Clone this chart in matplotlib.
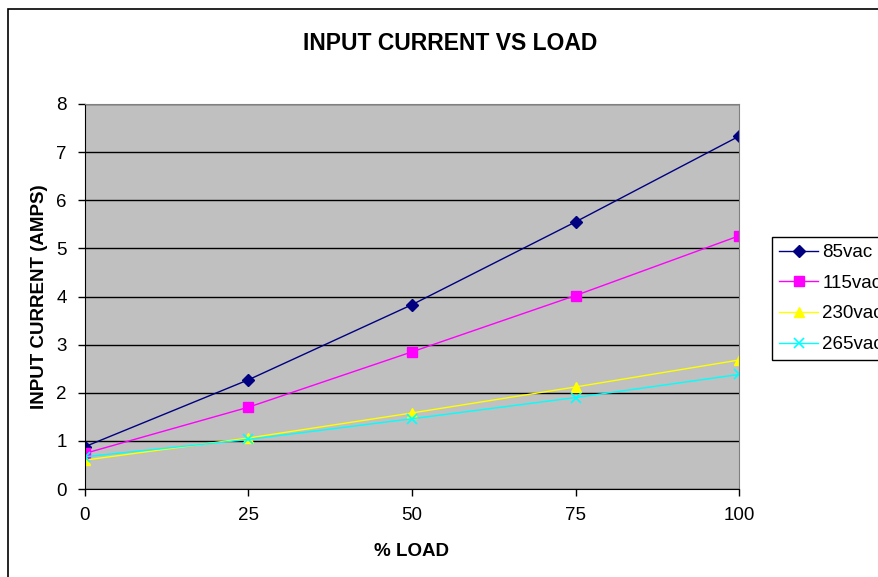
import matplotlib
matplotlib.use('Agg')
import matplotlib.pyplot as plt
from matplotlib.patches import Rectangle

plt.rcParams['font.family'] = ['Liberation Sans', 'DejaVu Sans']

# percent load
load = [0, 25, 50, 75, 100]

# input current (amps) at each line voltage
amps_85 = [0.88, 2.27, 3.83, 5.55, 7.33]
amps_115 = [0.74, 1.70, 2.85, 4.02, 5.26]
amps_230 = [0.60, 1.06, 1.58, 2.12, 2.68]
amps_265 = [0.67, 1.03, 1.46, 1.90, 2.38]

series_names = ['85vac', '115vac', '230vac', '265vac']
yticks = [0, 1, 2, 3, 4, 5, 6, 7, 8]

fig = plt.figure(figsize=(8.79, 5.77), dpi=100)
fig.patch.set_facecolor('white')

# outer chart frame (runs off the right and bottom edges)
fig.add_artist(Rectangle((8 / 879, -0.2), 1.2, 1 - 9 / 577 + 0.2,
                         transform=fig.transFigure, fill=False,
                         edgecolor='black', linewidth=1.2))

ax = fig.add_axes([85 / 879, 1 - 489 / 577, 654 / 879, 385 / 577])
ax.set_facecolor('#C0C0C0')

ax.plot(load, amps_85, color='#000080', marker='D', markersize=6.5, linewidth=1, label=series_names[0])
ax.plot(load, amps_115, color='#FF00FF', marker='s', markersize=6.5, linewidth=1, label=series_names[1])
ax.plot(load, amps_230, color='#FFFF00', marker='^', markersize=7.5, linewidth=1, label=series_names[2])
ax.plot(load, amps_265, color='#00FFFF', marker='x', markersize=7, markeredgewidth=1.2, linewidth=1, label=series_names[3])

ax.set_xlim(0, 100)
ax.set_ylim(0, 8)
ax.set_xticks(load)
ax.set_yticks(yticks)
ax.yaxis.grid(True, color='black', linewidth=1)
ax.set_axisbelow(True)

for side in ['top', 'right']:
    ax.spines[side].set_color('#808080')
for side in ['left', 'bottom']:
    ax.spines[side].set_color('black')
ax.tick_params(direction='out', length=5, width=1, labelsize=13.5, pad=8, colors='black')

ax.set_xlabel('% LOAD', fontsize=13.5, fontweight='bold')
ax.xaxis.set_label_coords(0.5, (489 - 552) / 385)
ax.xaxis.label.set_va('center')
ax.set_ylabel('INPUT CURRENT (AMPS)', fontsize=13.5, fontweight='bold')
ax.yaxis.set_label_coords((40 - 85) / 654, 0.5)
ax.yaxis.label.set_va('center')
fig.text(450 / 879, 1 - 43 / 577, 'INPUT CURRENT VS LOAD', fontsize=16.5,
         fontweight='bold', ha='center', va='center')

# legend sits partly past the right edge of the figure
leg = ax.legend(loc='upper left', bbox_to_anchor=(772 / 879, 1 - 237 / 577),
                bbox_transform=fig.transFigure, borderaxespad=0, fontsize=13.5,
                fancybox=False, edgecolor='black', framealpha=1,
                handlelength=2.1, handletextpad=0.2, labelspacing=0.72,
                borderpad=0.38)
leg.get_frame().set_linewidth(1)

fig.savefig('out.png', dpi=100)
